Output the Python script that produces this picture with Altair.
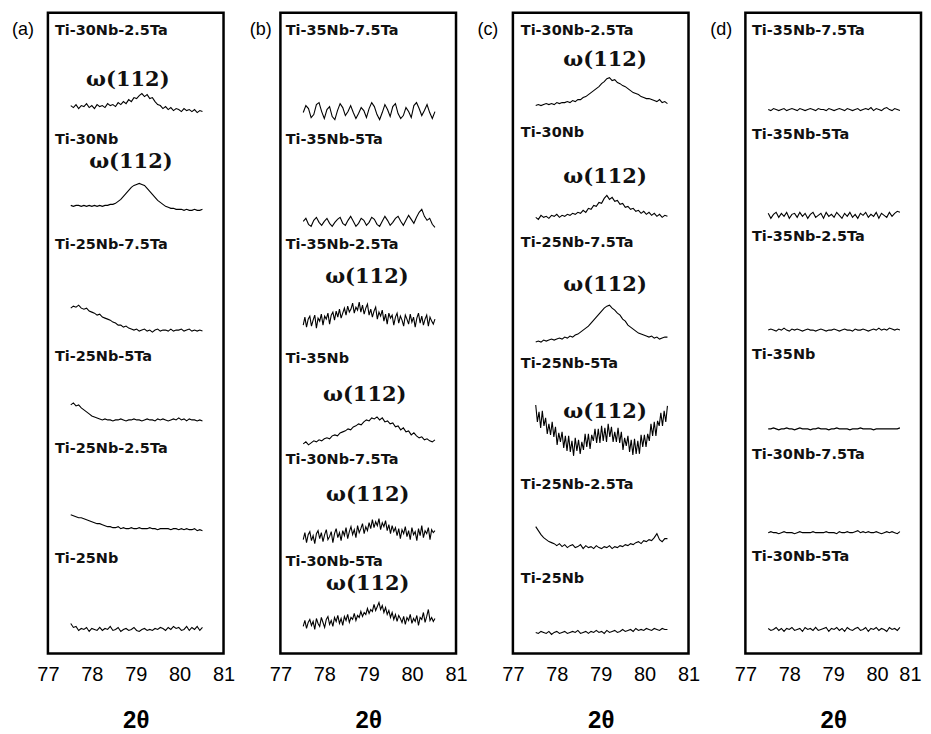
import altair as alt
import pandas as pd

# 2-theta sampling range of every measured trace (deg)
TWO_THETA_START = 77.52
TWO_THETA_END = 80.52
TICKS = [77, 78, 79, 80, 81]

# ---------------- panel (a) ----------------
A_SAMPLES = ["Ti-30Nb-2.5Ta", "Ti-30Nb", "Ti-25Nb-7.5Ta", "Ti-25Nb-5Ta", "Ti-25Nb-2.5Ta", "Ti-25Nb"]
A_OFFSETS = [547, 447, 324, 234, 125, 24]
A_1 = [2, 0, 3, -1, 2, 1, 4, 0, 2, -1, 3, 1, 2, 0, 4, 2, 3, 1, 5, 3, 6, 4, 8, 6, 10, 9, 12, 14, 11, 13, 9, 10, 6, 3, 2, -1, 1, -2, 0, -3, -1, -2, -4, -1, -3, -2, -4, -2, -5, -3, -4]
A_2 = [2, 1, 2, 2, 1, 2, 1, 2, 1, 2, 1, 2, 1, 2, 2, 3, 3, 4, 6, 8, 11, 14, 17, 20, 22, 23, 24, 23, 22, 19, 16, 13, 10, 7, 5, 3, 1, 0, -1, -1, -2, -2, -2, -3, -2, -3, -3, -2, -3, -3, -2]
A_3 = [22, 24, 23, 25, 22, 21, 22, 19, 18, 17, 15, 16, 13, 12, 11, 10, 8, 7, 5, 5, 3, 4, 2, 1, 0, 1, -1, 0, 1, -1, 0, -2, 0, 1, -1, 0, 0, -1, 1, -1, 0, 0, 1, -1, 0, 1, -1, 0, -1, 0, -1]
A_4 = [15, 17, 14, 15, 12, 10, 8, 6, 4, 3, 2, 1, 0, 1, 0, 0, -1, 0, 0, 1, 0, -1, 0, 0, 1, 0, 0, -1, 0, 1, 0, 0, -1, 1, 0, 1, 0, -1, 0, 1, 0, 2, 0, 1, -1, 1, 0, 0, -1, 0, -1]
A_5 = [14, 13, 12, 11, 11, 10, 9, 8, 7, 6, 5, 5, 4, 3, 2, 2, 1, 1, 2, 0, 1, 0, 0, 1, 0, 0, 1, 0, 0, 0, 1, 0, 0, -1, 0, 0, 0, 0, -1, 0, 0, -1, 0, -1, 0, -1, -1, 0, -2, -1, -2]
A_6 = [6, 2, 3, -1, 1, 0, 2, -2, 1, 0, -1, 2, -1, 1, 0, 3, -1, 0, 2, -2, 0, 1, -1, 0, 2, -1, -2, 0, 1, -1, 0, -1, 1, 0, 2, 1, -1, 2, 0, 3, 1, 2, -1, 0, 3, -1, 2, 0, 3, -1, 2]

# ---------------- panel (b) ----------------
B_SAMPLES = ["Ti-35Nb-7.5Ta", "Ti-35Nb-5Ta", "Ti-35Nb-2.5Ta", "Ti-35Nb", "Ti-30Nb-7.5Ta", "Ti-30Nb-5Ta"]
B_OFFSETS = [542, 432, 332, 210, 117, 30]
B_1 = [0, 7, 4, -5, -2, 8, 10, 1, -6, 3, 6, -4, -7, 2, 9, 5, -3, 1, 7, 0, -6, -1, 5, 2, -5, 4, 10, 6, -2, -7, 0, 8, 3, -4, 6, 9, -1, -6, -3, 5, 1, -5, 7, 10, 4, -3, 2, 8, 0, -6, 1]
B_2 = [1, 4, -2, -4, 2, 5, 0, -3, 1, 4, -1, -4, 0, 3, 5, -1, -3, 2, 6, 1, -4, -1, 4, 2, -3, 0, 5, 3, -2, -4, 1, 6, 2, -3, 0, 4, 6, 1, -3, 2, 7, 3, -1, 5, 10, 13, 6, 2, 4, -2, -5]
B_3 = [-3, 5, -5, 3, 6, -4, 2, 7, -6, 4, 1, 8, -3, 6, 3, 9, -2, 7, 10, 2, 11, 5, 13, 4, 9, 14, 7, 16, 10, 13, 19, 9, 15, 12, 20, 10, 17, 8, 14, 18, 7, 13, 5, 11, 15, 3, 10, 6, 12, 1, 8, -2, 9, 4, 7, -3, 5, 9, -1, 6, 2, -4, 7, 3, -2, 8, 0, 5, -5, 4, 9, -1, 6, -3, 3, 7, -4, 5, 1, -2, 3]
B_4 = [0, 2, -1, 1, 3, 2, 4, 3, 5, 6, 5, 8, 9, 8, 11, 12, 13, 15, 14, 17, 18, 20, 19, 22, 24, 23, 26, 25, 27, 24, 26, 22, 23, 20, 21, 17, 18, 14, 16, 12, 13, 9, 11, 8, 6, 7, 4, 5, 3, 2, 4]
B_5 = [-3, 4, -6, 2, 5, -4, 1, -7, 3, 6, -2, 4, -5, 2, 7, -3, 0, 5, -6, 3, 8, -1, 4, -4, 6, 1, 9, -2, 5, 10, 2, 7, -1, 11, 4, 8, 13, 3, 10, 6, 14, 8, 17, 9, 15, 11, 18, 7, 14, 10, 16, 6, 12, 3, 11, 5, 9, 1, 8, -2, 7, 3, 10, 0, 6, -3, 9, 2, 5, -4, 8, 1, 11, -1, 6, 3, 9, -3, 7, 4, 6]
B_6 = [-3, 3, -5, 1, 4, -2, 2, -6, 5, 0, -3, 6, 1, -4, 4, 7, -1, 3, -3, 6, 2, 8, 0, 5, -2, 7, 3, 9, 1, 6, 4, 10, 3, 8, 6, 12, 7, 11, 9, 15, 10, 14, 12, 19, 13, 17, 21, 14, 18, 11, 16, 9, 13, 6, 11, 4, 9, 2, 8, 5, 1, 7, -1, 6, 3, 9, 0, 5, 2, 8, -2, 6, 4, 11, 1, 7, 14, 3, 6, 2, 5]

# ---------------- panel (c) ----------------
C_SAMPLES = ["Ti-30Nb-2.5Ta", "Ti-30Nb", "Ti-25Nb-7.5Ta", "Ti-25Nb-5Ta", "Ti-25Nb-2.5Ta", "Ti-25Nb"]
C_OFFSETS = [549, 437, 314, 207, 107, 21]
C_1 = [0, 1, 0, 1, 2, 1, 2, 1, 3, 2, 3, 3, 4, 3, 5, 4, 6, 6, 8, 9, 11, 13, 15, 17, 19, 22, 24, 27, 28, 25, 26, 23, 22, 20, 19, 17, 15, 13, 12, 11, 9, 8, 7, 7, 6, 5, 4, 6, 3, 4, 2]
C_2 = [0, -2, 2, 0, 1, -1, 2, 1, 3, 0, 2, 1, 3, 2, 4, 3, 5, 4, 7, 5, 9, 8, 12, 11, 15, 14, 19, 22, 18, 20, 16, 17, 13, 14, 10, 11, 8, 9, 6, 7, 4, 6, 3, 5, 2, 4, 1, 3, 0, 2, 1]
C_3 = [-2, -1, -2, 0, -1, 0, 1, 0, 1, 2, 1, 3, 2, 4, 3, 5, 6, 8, 10, 12, 14, 17, 20, 23, 26, 29, 32, 34, 35, 32, 30, 27, 25, 21, 19, 15, 13, 11, 9, 7, 6, 5, 4, 3, 4, 2, 3, 1, 2, 3, 3]
C_4 = [42, 25, 35, 19, 36, 21, 29, 13, 23, 12, 25, 10, 20, 2, 14, 5, 15, -1, 11, -4, 11, -5, 6, -9, 9, -4, 7, -7, 5, -3, 13, 0, 13, -2, 12, 6, 18, 4, 18, 4, 21, 6, 19, 5, 23, 10, 20, 5, 15, 5, 19, 4, 15, -3, 9, 1, 11, -5, 7, -8, 8, -7, 6, -7, 12, 0, 12, 0, 13, 6, 23, 11, 25, 11, 26, 21, 34, 21, 36, 25, 41]
C_5 = [20, 16, 12, 9, 7, 5, 4, 3, 1, 3, 0, 2, -1, 1, 2, -1, 0, 2, -2, 1, -1, 0, -2, 1, -1, -2, 0, -1, 1, -2, 0, -1, 1, 0, 2, 1, 3, 2, 4, 5, 3, 6, 5, 7, 6, 9, 13, 7, 5, 8, 8]
C_6 = [0, -1, 1, 0, -1, 1, -2, 0, 1, -1, 0, 1, -1, 0, 1, 0, 2, -1, 0, 1, -1, 1, 0, 2, 0, 1, -1, 2, 0, 1, 2, 0, 1, 3, 1, 2, 3, 1, 4, 2, 3, 2, 4, 3, 2, 4, 3, 2, 4, 3, 3]

# ---------------- panel (d) ----------------
D_SAMPLES = ["Ti-35Nb-7.5Ta", "Ti-35Nb-5Ta", "Ti-35Nb-2.5Ta", "Ti-35Nb", "Ti-30Nb-7.5Ta", "Ti-30Nb-5Ta"]
D_OFFSETS = [545, 439, 324, 225, 121, 24]
D_1 = [0, -1, 1, 0, -1, 0, 1, -1, 0, 1, 0, -1, 1, 0, -1, 0, 1, 0, -1, 1, 0, 0, -1, 1, 0, -1, 0, 1, 0, -1, 1, 0, -1, 0, 1, -1, 0, 1, 0, 2, -1, 1, 0, -1, 1, 2, 0, -1, 1, 0, -1]
D_2 = [2, -3, 1, 3, -2, 2, -1, 3, -3, 1, 2, -2, 3, -1, 2, -3, 1, 3, -2, 0, 2, -3, 3, -1, 1, -2, 3, 0, -3, 2, -1, 3, -2, 1, -3, 2, 0, 3, -2, 1, -1, 3, -3, 2, 0, -2, 3, -1, 2, 4, 3]
D_3 = [0, 1, 0, -1, 1, 0, 2, 0, -1, 1, 0, 1, 0, -1, 0, 1, 0, 0, -1, 0, 1, 0, -1, 0, 0, 1, 0, -1, 0, 1, 0, 0, -1, 1, 0, 0, 1, 0, -1, 0, 1, 0, 2, 0, 1, 0, 2, 1, 0, 1, 0]
D_4 = [0, 0, 1, 0, -1, 0, 0, 1, 0, 0, -1, 0, 1, 0, 0, 0, -1, 0, 0, 1, 0, 0, 0, -1, 0, 0, 1, 0, 0, 0, 0, -1, 0, 0, 0, 1, 0, 0, 0, 0, -1, 0, 0, 0, 0, 0, 0, 0, 0, 0, 1]
D_5 = [0, 1, 0, 0, -1, 0, 1, 0, 0, 0, -1, 0, 1, 0, 0, 0, 0, 1, 0, 0, 0, 0, 1, 0, 0, 0, -1, 1, 0, 0, 1, 0, 0, 1, 2, 0, 1, 0, 1, 0, 0, 1, 0, -1, 0, 1, 0, 1, 0, -1, 1]
D_6 = [1, -1, 0, 2, -1, 1, -2, 1, 0, 2, -1, 0, 1, -2, 2, 0, 1, -1, 2, -1, 0, 1, 2, -2, 1, 0, 2, -1, 1, -2, 2, 0, -1, 1, 2, -1, 0, 2, -2, 1, 0, 2, -1, 1, 0, -2, 2, 0, 1, -1, 2]

# ---------------- annotations ----------------
OMEGA_TEXT = "ω(112)"
ANNOT = {
    "a": {"letter": "(a)", "letter_x": 76.43, "label_x": 77.16,
          "label_y": [624, 514, 409, 297, 205, 95],
          "omega": [(78.82, 575), (78.89, 492)]},
    "b": {"letter": "(b)", "letter_x": 76.55, "label_x": 77.12,
          "label_y": [624, 515, 409, 295, 194, 92],
          "omega": [(78.97, 377), (78.92, 259), (78.99, 159), (78.99, 70)]},
    "c": {"letter": "(c)", "letter_x": 76.43, "label_x": 77.18,
          "label_y": [624, 522, 411, 290, 169, 75],
          "omega": [(79.1, 595), (79.1, 477), (79.1, 369), (79.1, 242)]},
    "d": {"letter": "(d)", "letter_x": 76.45, "label_x": 77.15,
          "label_y": [624, 520, 417, 299, 199, 97],
          "omega": []},
}
LETTER_Y = 625

PANEL_H = 642
SANS = "DejaVu Sans"
SERIF = "DejaVu Serif"


def make_panel(key, samples, offsets, series, width, last=False):
    rows = []
    for name, off, vals in zip(samples, offsets, series):
        n = len(vals)
        for i, v in enumerate(vals):
            rows.append({
                "trace": name,
                "two_theta": TWO_THETA_START + (TWO_THETA_END - TWO_THETA_START) * i / (n - 1),
                "intensity": off + v,
            })
    df = pd.DataFrame(rows)
    ann = ANNOT[key]

    if last:
        label_align = {"condition": {"test": "datum.value == 81", "value": "right"}, "value": "center"}
    else:
        label_align = "center"

    x_enc = alt.X(
        "two_theta:Q",
        scale=alt.Scale(domain=[77, 81], nice=False, zero=False),
        axis=alt.Axis(values=TICKS, title="2θ", grid=False, ticks=False, tickSize=0,
                      domain=False, labelPadding=11, titlePadding=24, format="d",
                      labelFlush=False, labelOverlap=False, labelAlign=label_align,
                      labelFont="Liberation Sans", labelFontSize=20, labelColor="black",
                      titleFont="Liberation Sans Narrow, Liberation Sans", titleFontSize=24,
                      titleFontWeight="bold", titleColor="black"),
    )
    y_enc = alt.Y("intensity:Q", scale=alt.Scale(domain=[0, PANEL_H], nice=False, zero=False), axis=None)

    lines = alt.Chart(df).mark_line(color="black", strokeWidth=1.1).encode(
        x=x_enc, y=y_enc, detail="trace:N"
    )

    lab_df = pd.DataFrame({
        "txt": samples,
        "two_theta": [ann["label_x"]] * len(samples),
        "intensity": ann["label_y"],
    })
    labels = alt.Chart(lab_df).mark_text(
        align="left", baseline="middle", font=SANS, fontSize=14.5, fontWeight="bold", color="#111"
    ).encode(x=x_enc, y=y_enc, text="txt:N")

    layers = [lines, labels]

    if ann["omega"]:
        om_df = pd.DataFrame({
            "txt": [OMEGA_TEXT] * len(ann["omega"]),
            "two_theta": [p[0] for p in ann["omega"]],
            "intensity": [p[1] for p in ann["omega"]],
        })
        omegas = alt.Chart(om_df).mark_text(
            align="center", baseline="middle", font=SERIF, fontSize=21, fontWeight="bold", color="#111"
        ).encode(x=x_enc, y=y_enc, text="txt:N")
        layers.append(omegas)

    let_df = pd.DataFrame({"txt": [ann["letter"]], "two_theta": [ann["letter_x"]], "intensity": [LETTER_Y]})
    letter = alt.Chart(let_df).mark_text(
        align="center", baseline="middle", font="Liberation Sans", fontSize=18, color="black"
    ).encode(x=x_enc, y=y_enc, text="txt:N")
    layers.append(letter)

    return alt.layer(*layers).properties(width=width, height=PANEL_H)


pa = make_panel("a", A_SAMPLES, A_OFFSETS, [A_1, A_2, A_3, A_4, A_5, A_6], 176)
pb = make_panel("b", B_SAMPLES, B_OFFSETS, [B_1, B_2, B_3, B_4, B_5, B_6], 176)
pc = make_panel("c", C_SAMPLES, C_OFFSETS, [C_1, C_2, C_3, C_4, C_5, C_6], 176)
pd_ = make_panel("d", D_SAMPLES, D_OFFSETS, [D_1, D_2, D_3, D_4, D_5, D_6], 176, last=True)

chart = (
    alt.hconcat(pa, pb, pc, pd_, spacing=57)
    .properties(padding={"left": 2, "top": 2, "right": 0, "bottom": 2}, bounds="flush",
                background="white")
    .configure_view(stroke="black", strokeWidth=2.5)
)

chart.save("out.html", embed_options={"renderer": "svg", "actions": False})
